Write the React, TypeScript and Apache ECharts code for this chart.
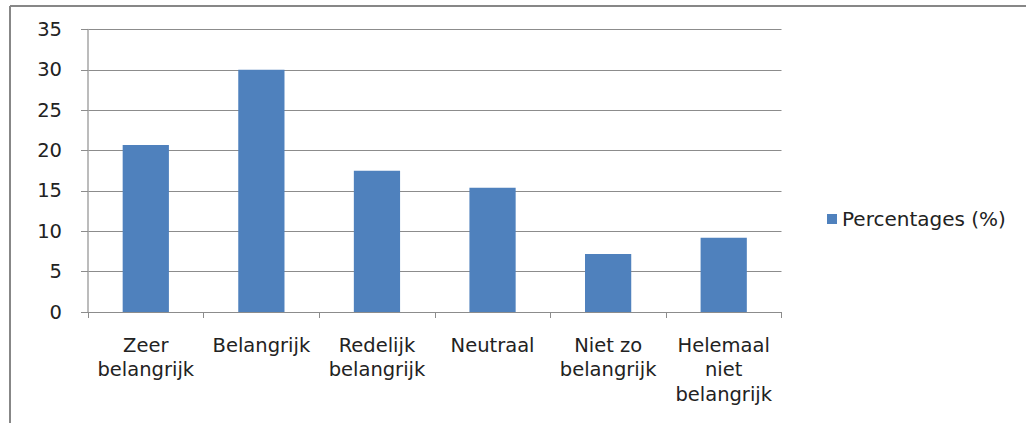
import React, { useEffect, useRef } from "react";
import * as echarts from "echarts";

const categories = [
  "Zeer\nbelangrijk",
  "Belangrijk",
  "Redelijk\nbelangrijk",
  "Neutraal",
  "Niet zo\nbelangrijk",
  "Helemaal\nniet\nbelangrijk",
];
const seriesName = "Percentages (%)";
const values = [20.7, 30.0, 17.5, 15.4, 7.2, 9.2];
const yMin = 0;
const yMax = 35;
const yInterval = 5;

const FONT = "'DejaVu Sans', sans-serif";

export default function App() {
  const ref = useRef<HTMLDivElement>(null);
  useEffect(() => {
    document.body.style.margin = "0";
    const chart = echarts.init(ref.current!, undefined, { renderer: "svg" });
    chart.setOption({
      animation: false,
      backgroundColor: "#ffffff",
      textStyle: { fontFamily: FONT },
      graphic: [
        {
          type: "line",
          shape: { x1: 10, y1: 6, x2: 1026, y2: 6 },
          style: { stroke: "#878787", lineWidth: 2 },
          silent: true,
        },
        {
          type: "line",
          shape: { x1: 10, y1: 6, x2: 10, y2: 423 },
          style: { stroke: "#878787", lineWidth: 2 },
          silent: true,
        },
      ],
      grid: { left: 88, top: 29.5, right: 244.5, bottom: 111, containLabel: false },
      legend: {
        show: true,
        data: [seriesName],
        left: 822,
        top: 204,
        itemWidth: 10,
        itemHeight: 10,
        itemGap: 9,
        icon: "rect",
        textStyle: { fontFamily: FONT, fontSize: 20, color: "#222" },
      },
      xAxis: {
        type: "category",
        data: categories,
        boundaryGap: true,
        axisLine: { show: true, lineStyle: { color: "#8c8c8c", width: 1 } },
        axisTick: { show: true, length: 6, lineStyle: { color: "#8c8c8c" } },
        axisLabel: {
          interval: 0,
          margin: 21,
          fontFamily: FONT,
          fontSize: 19.5,
          color: "#222",
          lineHeight: 24.5,
        },
      },
      yAxis: {
        type: "value",
        min: yMin,
        max: yMax,
        interval: yInterval,
        axisLine: { show: true, lineStyle: { color: "#a6a6a6", width: 1.5 } },
        axisTick: { show: true, length: 7, lineStyle: { color: "#8c8c8c" } },
        splitLine: { show: true, lineStyle: { color: "#8c8c8c", width: 1 } },
        axisLabel: { margin: 26, fontFamily: FONT, fontSize: 19.5, color: "#222" },
      },
      series: [
        {
          name: seriesName,
          type: "bar",
          data: values,
          barWidth: "40%",
          itemStyle: { color: "#4f81bd" },
        },
      ],
    });
    return () => chart.dispose();
  }, []);
  return <div ref={ref} style={{ width: 1026, height: 423 }} />;
}
